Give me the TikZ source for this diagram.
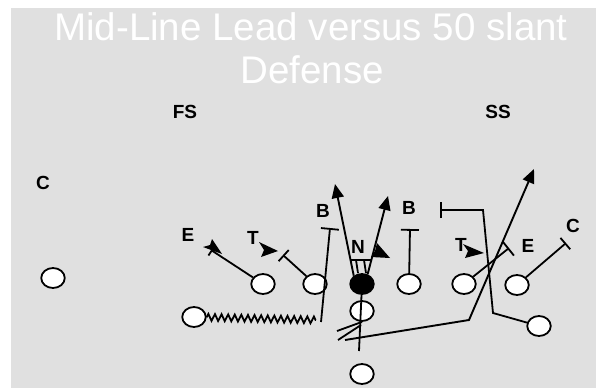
\documentclass[tikz,border=0pt]{standalone}
\usepackage{fontspec}
\setmainfont{Liberation Sans}
\usetikzlibrary{shapes.geometric,arrows.meta,decorations.pathmorphing,calc}
\definecolor{fieldgray}{RGB}{224,224,224}
\begin{document}
\begin{tikzpicture}[x=1pt,y=-1pt,
  player/.style={ellipse,draw=black,line width=1.8pt,fill=white,minimum width=23.5pt,minimum height=20pt,inner sep=0pt},
  cnode/.style={player,fill=black},
  deflabel/.style={font=\fontsize{19}{19}\selectfont\bfseries,inner sep=0pt},
  titletext/.style={font=\fontsize{38.5}{40}\selectfont,text=white,inner sep=0pt,anchor=base},
  route/.style={line width=1.9pt,-{Triangle[length=14pt,width=12pt]}},
  block/.style={line width=1.8pt,-{Bar[width=#1]}},
  block/.default=15pt,
  thinline/.style={line width=1.8pt},
  slant/.style={fill=black}
]
\useasboundingbox (0,0) rectangle (600,388);
\fill[white] (0,0) rectangle (600,388);
\fill[fieldgray] (11,8) rectangle (596,388);

% title
\node[titletext] (t1) at (311,40) {Mid-Line Lead versus 50 slant};
\node[titletext] (t2) at (312,83) {Defense};

% defenders
\node[deflabel] (fs) at (185,112) {FS};
\node[deflabel] (ss) at (498,112) {SS};
\node[deflabel] (lc) at (43,183) {C};
\node[deflabel] (le) at (188,235) {E};
\node[deflabel] (ltk) at (253,238) {T};
\node[deflabel] (lb) at (323,211) {B};
\node[deflabel] (nt) at (358,247) {N};
\node[deflabel] (rbk) at (409,208) {B};
\node[deflabel] (rtk) at (461,245) {T};
\node[deflabel] (re) at (528,246) {E};
\node[deflabel] (rc) at (573,226) {C};

% offense
\node[player] (wr) at (53,278) {};
\node[player] (wb) at (194,317) {};
\node[player] (lte) at (263,284) {};
\node[player] (lt) at (315,284) {};
\node[cnode] (ctr) at (362,284) {};
\node[player] (rg) at (409,284) {};
\node[player] (rt) at (464,284) {};
\node[player] (rte) at (517,285) {};
\node[player] (rw) at (539,326) {};
\node[player] (qb) at (362,311) {};
\node[player] (rb) at (362,374) {};

% coordinates
\coordinate (leB) at (211,250);
\coordinate (ltB) at (283,255);
\coordinate (zz) at (316,320);
\coordinate (lbS) at (321,322);
\coordinate (lbB) at (330,228);
\coordinate (cL) at (335,184);
\coordinate (cR) at (388,196);
\coordinate (nb1) at (350,260);
\coordinate (nb2) at (372,260);
\coordinate (nv1) at (356,260);
\coordinate (nv2) at (364,260);
\coordinate (qbE) at (359,351);
\coordinate (s1) at (337,331);
\coordinate (s2a) at (361,325);
\coordinate (s2b) at (338,340);
\coordinate (m0) at (345,340);
\coordinate (m1) at (469,320);
\coordinate (tipS) at (534,169);
\coordinate (rbB) at (410,229);
\coordinate (w1) at (493,313);
\coordinate (w2) at (483,210);
\coordinate (w3) at (440,210);
\coordinate (rtB) at (509,248);
\coordinate (rteB) at (566,243);

% left side blocks
\draw[block=12pt] (lte) -- (leB);
\draw[block=15pt] (lt) -- (ltB);
\draw[thinline,decorate,decoration={zigzag,segment length=6.6pt,amplitude=3.4pt}] (wb) -- (zz);
\draw[block=18pt] (lbS) -- (lbB);

% center
\draw[route] (ctr.135) -- (cL);
\draw[route] (ctr.60) -- (cR);
\draw[thinline] (nb1) -- (nb2);
\draw[thinline] ($(ctr.north)+(-4,0)$) -- (nv1);
\draw[thinline] ($(ctr.north)+(4,0)$) -- (nv2);

% backfield
\draw[thinline] (ctr) -- (qbE);
\draw[thinline] (qb.south) -- (s1);
\draw[thinline] (s2a) -- (s2b);
\draw[route] (m0) -- (m1) -- (tipS);

% right side blocks
\draw[block=18pt] (rg) -- (rbB);
\draw[block=16pt] (rw) -- (w1) -- (w2) -- (w3);
\draw[block=18pt] (rt) -- (rtB);
\draw[block=15pt] (rte) -- (rteB);

% defensive slant arrows
\fill[slant] (203,247) -- (210,245) -- (212,239) -- (222,254) -- cycle;
\fill[slant] (259,242) -- (264,250) -- (261,257) -- (278,251) -- cycle;
\fill[slant] (377,243) -- (375,251) -- (371,257) -- (390,258) -- cycle;
\fill[slant] (463,244) -- (468,251) -- (465,258) -- (484,253) -- cycle;
\end{tikzpicture}
\end{document}
